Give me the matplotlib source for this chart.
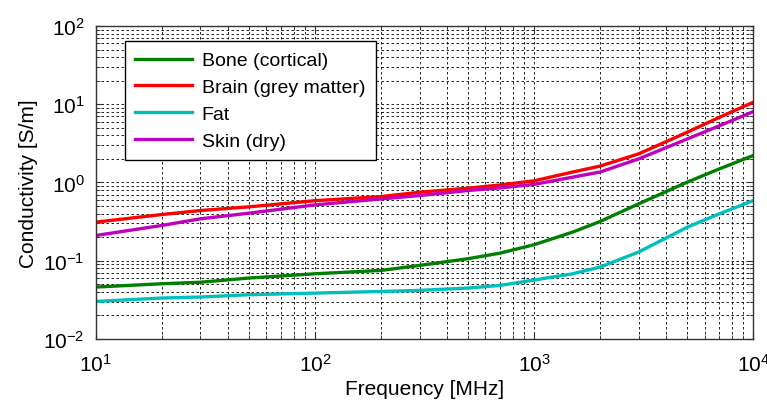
import numpy as np
import matplotlib
matplotlib.use("Agg")
import matplotlib.pyplot as plt
from matplotlib.ticker import LogLocator, NullFormatter

plt.rcParams['font.family'] = ['Liberation Sans', 'DejaVu Sans']
plt.rcParams['mathtext.fontset'] = 'custom'
plt.rcParams['mathtext.rm'] = 'Liberation Sans'
plt.rcParams['mathtext.it'] = 'Liberation Sans:italic'

# Data (frequency in MHz, conductivity in S/m)
freq = [10, 20, 30, 50, 100, 200, 300, 500, 700, 1000, 1500, 2000, 3000, 5000, 7000, 10000]
bone = [0.046, 0.0507, 0.053, 0.060, 0.068, 0.075, 0.087, 0.106, 0.125, 0.160, 0.232,
        0.317, 0.533, 1.01, 1.49, 2.21]
brain = [0.311, 0.389, 0.438, 0.488, 0.585, 0.66, 0.75, 0.845, 0.93, 1.05, 1.36,
         1.62, 2.32, 4.39, 6.8, 10.6]
fat = [0.0301, 0.0333, 0.0343, 0.0367, 0.0385, 0.0404, 0.0417, 0.0447, 0.0483, 0.0565,
       0.068, 0.0828, 0.129, 0.268, 0.397, 0.587]
skin = [0.21, 0.282, 0.343, 0.405, 0.517, 0.616, 0.68, 0.79, 0.853, 0.945, 1.17,
        1.36, 2.0, 3.6, 5.3, 8.05]

labels = ['Bone (cortical)', 'Brain (grey matter)', 'Fat', 'Skin (dry)']
colors = ['#008000', '#ff0000', '#00bfbf', '#bf00bf']

fig = plt.figure(figsize=(7.67, 4.10), dpi=100)
ax = fig.add_axes([0.125, 0.171, 0.857, 0.763])

for y, lab, c in zip([bone, brain, fat, skin], labels, colors):
    ax.loglog(freq, y, color=c, lw=2.4, label=lab)

ax.set_xlim(10, 1e4)
ax.set_ylim(1e-2, 1e2)

ax.xaxis.set_major_locator(LogLocator(base=10, numticks=10))
ax.yaxis.set_major_locator(LogLocator(base=10, numticks=10))
ax.xaxis.set_minor_locator(LogLocator(base=10, subs=np.arange(2, 10), numticks=20))
ax.yaxis.set_minor_locator(LogLocator(base=10, subs=np.arange(2, 10), numticks=20))
ax.xaxis.set_minor_formatter(NullFormatter())
ax.yaxis.set_minor_formatter(NullFormatter())

ax.grid(True, which='both', color='black', linestyle=(0, (3, 3)), lw=0.6)
ax.tick_params(which='both', direction='in', top=True, right=True, colors='#333333',
               labelcolor='black', labelsize=15)
ax.tick_params(which='major', length=5)
ax.tick_params(which='minor', length=3)
ax.tick_params(axis='x', pad=10)
ax.tick_params(axis='y', pad=8)
for s in ax.spines.values():
    s.set_color('#333333')
    s.set_linewidth(1.0)

ax.set_xlabel('Frequency [MHz]', fontsize=15, labelpad=3)
ax.set_ylabel('Conductivity [S/m]', fontsize=15, labelpad=4)

leg = ax.legend(loc='upper left', bbox_to_anchor=(0.044, 0.952), fontsize=14,
                fancybox=False, framealpha=1, edgecolor='black',
                handlelength=2.9, handletextpad=0.5, labelspacing=0.47,
                borderpad=0.55, borderaxespad=0)
leg.get_frame().set_linewidth(1.0)

fig.savefig('out.png', dpi=100)
